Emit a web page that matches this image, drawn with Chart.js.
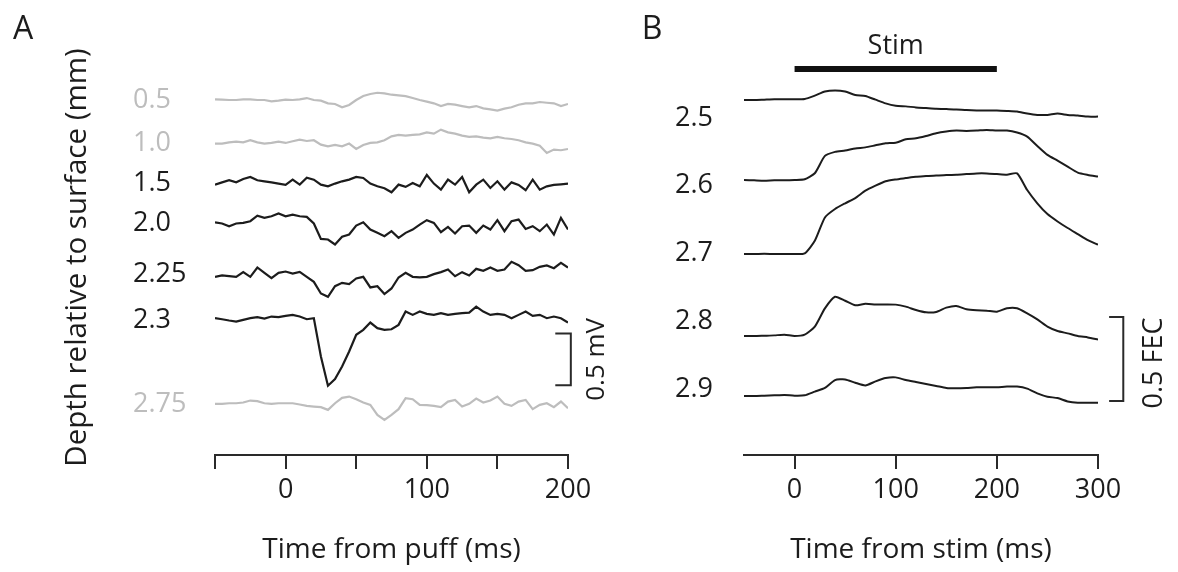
<!DOCTYPE html>
<html>
<head>
<meta charset="utf-8">
<script src="https://cdn.jsdelivr.net/npm/chart.js@4.4.1/dist/chart.umd.min.js"></script>
<style>
  html, body { margin: 0; padding: 0; background: #fff; }
  #wrap { position: relative; width: 1178px; height: 572px; }
  #chartA { position: absolute; left: 0; top: 0; }
  #chartB { position: absolute; left: 620px; top: 0; }
</style>
</head>
<body>
<div id="wrap">
  <canvas id="chartA" width="620" height="572"></canvas>
  <canvas id="chartB" width="558" height="572"></canvas>
</div>
<script>
// ---- Panel A: LFP traces (values in µV, relative to each trace's baseline) ----
const TIME_A = [-50, -45, -40, -35, -30, -25, -20, -15, -10, -5,
  0, 5, 10, 15, 20, 25, 30, 35, 40, 45,
  50, 55, 60, 65, 70, 75, 80, 85, 90, 95,
  100, 105, 110, 115, 120, 125, 130, 135, 140, 145,
  150, 155, 160, 165, 170, 175, 180, 185, 190, 195, 200];
const DEPTHS_A = ['0.5', '1.0', '1.5', '2.0', '2.25', '2.3', '2.75'];
const FADED_A = ['0.5', '1.0', '2.75'];
const OFFSETS_A = [-385, -798, -1183, -1567, -2060, -2500, -3308];
const XTICKS_A = [-50, 0, 50, 100, 150, 200];
const XLABELS_A = [0, 100, 200];
const SCALE_MV = 500;

const lfp05 = [6, 3, 0, 0, 6, 6, 0, 0, -13, -6, 3, 0, 6, 19, 0, -6, -32, -38, -70, -48,
  0, 38, 58, 70, 64, 51, 45, 38, 19, 0, -16, -32, -58, -38, -45, -58, -70, -58, -80, -90,
  -102, -83, -70, -45, -32, -32, -19, -26, -32, -58, -38];
const lfp10 = [-6, -6, 6, 13, 6, 26, 6, -6, 0, 13, 0, 16, 32, 19, 26, -16, -32, -19, -32, -6,
  -58, -19, 0, 6, 26, 64, 77, 70, 77, 83, 102, 90, 128, 102, 90, 70, 58, 64, 51, 45,
  58, 45, 38, 26, 6, -6, -26, -96, -64, -70, -58];
const lfp15 = [-16, 6, 26, 6, 38, 58, 26, 16, 6, -6, -19, 32, -16, 51, 32, -16, -32, -6, 16, 32,
  58, 48, -6, -32, -51, -90, -16, -38, 0, -32, 77, -6, -64, 32, -16, 58, -90, -16, 32, -48,
  16, -64, 6, -19, -70, 32, -64, -32, -19, -13, -6];
const lfp20 = [6, -6, -32, -6, 0, 16, 70, 48, 64, 90, 64, 80, 64, 58, -6, -154, -160, -208, -134, -112,
  -26, 6, -64, -96, -128, -80, -144, -96, -64, -16, 26, 0, -90, -38, -102, -32, -26, -96, -26, -64,
  26, -80, 16, 32, -58, -32, -80, -16, -112, 48, -64];
const lfp225 = [-26, -13, -20, -26, 19, -26, 64, 12, -39, 12, 25, 6, 22, -26, -74, -186, -218, -116, -84, -96,
  -42, -26, -128, -116, -192, -138, -32, 12, -26, -32, -26, 0, 19, 44, -20, 19, -13, 51, 32, 64,
  32, 44, 118, 86, 32, 38, 70, 83, 57, 108, 64];
const lfp23 = [16, 6, -6, -16, 0, 16, 26, 13, 32, 26, 38, 48, 32, 6, 16, -352, -634, -570, -448, -304,
  -144, -96, -26, -80, -96, -90, -48, 80, 48, 80, 58, 48, 64, 48, 58, 64, 70, 128, 80, 48,
  58, 48, 16, 48, 80, 38, 48, 16, 32, 16, -26];
const lfp275 = [0, 0, 6, 6, 13, 32, 26, 6, 0, 6, 6, 6, -6, -19, -26, -32, -58, 6, 58, 70,
  45, 13, -10, -106, -154, -106, -51, 54, 45, -10, -13, -19, -32, 22, 38, -26, 0, 51, 13, 32,
  70, 0, -19, 22, 38, -51, -10, 6, -32, 22, -42];
const LFP_A = [lfp05, lfp10, lfp15, lfp20, lfp225, lfp23, lfp275];

// ---- Panel B: eyelid traces (fraction eyelid closure, relative to baseline) ----
const TIME_B = [-50, -40, -30, -20, -10, 0, 10, 20, 30, 40, 50, 60, 70, 80, 90, 100, 110, 120,
  130, 140, 150, 160, 170, 180, 190, 200, 210, 220, 230, 240, 250, 260, 270, 280, 290, 300];
const DEPTHS_B = [2.5, 2.6, 2.7, 2.8, 2.9];
const OFFSETS_B = [-0.238, -0.714, -1.155, -1.643, -2.0];
const XTICKS_B = [0, 100, 200, 300];
const STIM = [0, 200];
const SCALE_FEC = 0.5;

const fec25 = [0, 0, 0.002, 0.004, 0.004, 0.004, 0.006, 0.026, 0.05, 0.056, 0.05, 0.03, 0.024, 0.002,
  -0.02, -0.034, -0.038, -0.044, -0.048, -0.052, -0.054, -0.056, -0.06, -0.062, -0.062, -0.062,
  -0.065, -0.069, -0.081, -0.089, -0.089, -0.081, -0.089, -0.093, -0.099, -0.099];
const fec26 = [0, -0.002, -0.004, -0.002, -0.002, 0, 0.004, 0.04, 0.143, 0.167, 0.175, 0.187, 0.194,
  0.206, 0.218, 0.222, 0.242, 0.248, 0.262, 0.278, 0.288, 0.294, 0.292, 0.294, 0.298, 0.294,
  0.294, 0.282, 0.258, 0.202, 0.149, 0.115, 0.079, 0.044, 0.03, 0.02];
const fec27 = [0, 0, 0.002, 0, 0, 0, 0.004, 0.079, 0.218, 0.268, 0.302, 0.333, 0.377, 0.407, 0.433,
  0.444, 0.452, 0.46, 0.464, 0.468, 0.47, 0.472, 0.476, 0.48, 0.48, 0.476, 0.472, 0.48, 0.381,
  0.302, 0.238, 0.194, 0.155, 0.119, 0.083, 0.056];
const fec28 = [0, 0, 0.002, 0.004, 0.008, 0, 0.008, 0.056, 0.165, 0.234, 0.21, 0.183, 0.192, 0.188,
  0.188, 0.187, 0.175, 0.155, 0.141, 0.143, 0.169, 0.179, 0.159, 0.153, 0.151, 0.145, 0.165,
  0.165, 0.135, 0.099, 0.056, 0.03, 0.016, 0, -0.008, -0.02];
const fec29 = [0, 0, 0.002, 0.004, 0.006, 0.002, 0.004, 0.026, 0.048, 0.095, 0.099, 0.079, 0.063,
  0.087, 0.107, 0.111, 0.095, 0.083, 0.071, 0.06, 0.048, 0.046, 0.048, 0.052, 0.052, 0.052,
  0.056, 0.056, 0.044, 0.016, -0.004, -0.012, -0.032, -0.04, -0.04, -0.04];
const FEC_B = [fec25, fec26, fec27, fec28, fec29];

// ---- shared styling ----
const FONT = "'Open Sans', 'Noto Sans', sans-serif";
const INK = '#1c1c1c';
const FADE = '#bdbdbd';
const AXIS = '#2a2a2a';

function traceData(times, vals, offset) {
  return times.map((t, i) => ({ x: t, y: offset + vals[i] }));
}

function bracket(x0, x1, top, bottom) {
  return [{ x: x0, y: top }, { x: x1, y: top }, { x: x1, y: bottom }, { x: x0, y: bottom }];
}

function textPlugin(id, draw) {
  return {
    id,
    afterDraw(chart) {
      const ctx = chart.ctx;
      ctx.save();
      ctx.fillStyle = INK;
      ctx.textAlign = 'center';
      ctx.textBaseline = 'middle';
      draw(chart, ctx);
      ctx.restore();
    },
  };
}

function xAxis(min, max, ticks, labelFn, title) {
  return {
    type: 'linear',
    min,
    max,
    afterBuildTicks: (s) => { s.ticks = ticks.map((v) => ({ value: v })); },
    afterFit: (s) => { s.height = 117; },
    border: { display: true, color: AXIS, width: 2 },
    grid: { drawOnChartArea: false, drawTicks: true, tickLength: 14, color: AXIS, lineWidth: 2 },
    ticks: {
      autoSkip: false,
      maxRotation: 0,
      padding: 5,
      color: INK,
      font: { family: FONT, size: 27 },
      callback: labelFn,
    },
    title: {
      display: true,
      text: title,
      color: INK,
      font: { family: FONT, size: 28 },
      padding: { top: 0, bottom: 5 },
    },
  };
}

// ============================================
// Panel A
// ============================================
const datasetsA = LFP_A.map((vals, k) => ({
  data: traceData(TIME_A, vals, OFFSETS_A[k]),
  borderColor: FADED_A.includes(DEPTHS_A[k]) ? FADE : INK,
  borderWidth: 2.2,
  pointRadius: 0,
  tension: 0,
}));
const barTopA = -2630;
datasetsA.push({
  data: bracket(191, 202, barTopA, barTopA - SCALE_MV),
  borderColor: AXIS,
  borderWidth: 2,
  pointRadius: 0,
  clip: false,
});

new Chart(document.getElementById('chartA'), {
  type: 'line',
  data: { datasets: datasetsA },
  options: {
    responsive: false,
    animation: false,
    layout: { padding: { top: 60, right: 52, bottom: 0, left: 0 } },
    plugins: { legend: { display: false }, tooltip: { enabled: false } },
    scales: {
      x: xAxis(-50, 200, XTICKS_A, (v) => (XLABELS_A.includes(v) ? v : ''), 'Time from puff (ms)'),
      y: {
        type: 'linear',
        position: 'left',
        weight: 0,
        min: -3800,
        max: 0,
        afterBuildTicks: (s) => { s.ticks = OFFSETS_A.map((v) => ({ value: v })); },
        afterFit: (s) => { s.width = 82; },
        border: { display: false },
        grid: { display: false },
        ticks: {
          autoSkip: false,
          crossAlign: 'far',
          font: { family: FONT, size: 27 },
          color: (c) => (FADED_A.includes(DEPTHS_A[c.index]) ? FADE : INK),
          callback: (v, i) => DEPTHS_A[i],
        },
      },
      yTitle: {
        type: 'linear',
        position: 'left',
        weight: 10,
        afterFit: (s) => { s.width = 133; },
        border: { display: false },
        grid: { display: false },
        ticks: { display: false },
        title: {
          display: true,
          text: 'Depth relative to surface (mm)',
          color: INK,
          font: { family: FONT, size: 29.5 },
          padding: { top: 60, bottom: 0 },
        },
      },
    },
  },
  plugins: [textPlugin('labelsA', (chart, ctx) => {
    const { x, y } = chart.scales;
    ctx.font = `32px ${FONT}`;
    ctx.fillText('A', 23, 30);
    ctx.font = `26px ${FONT}`;
    ctx.translate(x.getPixelForValue(202) + 26, (y.getPixelForValue(barTopA) + y.getPixelForValue(barTopA - SCALE_MV)) / 2);
    ctx.rotate(-Math.PI / 2);
    ctx.fillText('0.5 mV', 0, 0);
  })],
});

// ============================================
// Panel B
// ============================================
const datasetsB = FEC_B.map((vals, k) => ({
  data: traceData(TIME_B, vals, OFFSETS_B[k]),
  borderColor: INK,
  borderWidth: 2,
  pointRadius: 0,
  tension: 0.2,
}));
const stimLevel = -0.054;
datasetsB.push({
  data: STIM.map((t) => ({ x: t, y: stimLevel })),
  borderColor: '#111',
  borderWidth: 6,
  borderCapStyle: 'butt',
  pointRadius: 0,
});
const barTopB = -1.53;
datasetsB.push({
  data: bracket(311, 325, barTopB, barTopB - SCALE_FEC),
  borderColor: AXIS,
  borderWidth: 2,
  pointRadius: 0,
  clip: false,
});

new Chart(document.getElementById('chartB'), {
  type: 'line',
  data: { datasets: datasetsB },
  options: {
    responsive: false,
    animation: false,
    layout: { padding: { top: 60, right: 80, bottom: 0, left: 55 } },
    plugins: { legend: { display: false }, tooltip: { enabled: false } },
    scales: {
      x: xAxis(-50, 300, XTICKS_B, (v) => v, 'Time from stim (ms)'),
      y: { type: 'linear', display: false, min: -2.351, max: 0 },
      yd: {
        type: 'linear',
        position: 'left',
        reverse: true,
        min: 2.4144,
        max: 2.9974,
        afterBuildTicks: (s) => { s.ticks = DEPTHS_B.map((v) => ({ value: v })); },
        afterFit: (s) => { s.width = 69; },
        border: { display: false },
        grid: { display: false },
        ticks: {
          autoSkip: false,
          crossAlign: 'far',
          color: INK,
          font: { family: FONT, size: 27 },
          callback: (v) => v.toFixed(1),
        },
      },
    },
  },
  plugins: [textPlugin('labelsB', (chart, ctx) => {
    const { x, y } = chart.scales;
    ctx.font = `32px ${FONT}`;
    ctx.fillText('B', 32, 30);
    ctx.font = `27px ${FONT}`;
    ctx.fillText('Stim', x.getPixelForValue((STIM[0] + STIM[1]) / 2), y.getPixelForValue(stimLevel) - 23);
    ctx.translate(x.getPixelForValue(325) + 31, (y.getPixelForValue(barTopB) + y.getPixelForValue(barTopB - SCALE_FEC)) / 2 + 4);
    ctx.rotate(-Math.PI / 2);
    ctx.fillText('0.5 FEC', 0, 0);
  })],
});
</script>
</body>
</html>
